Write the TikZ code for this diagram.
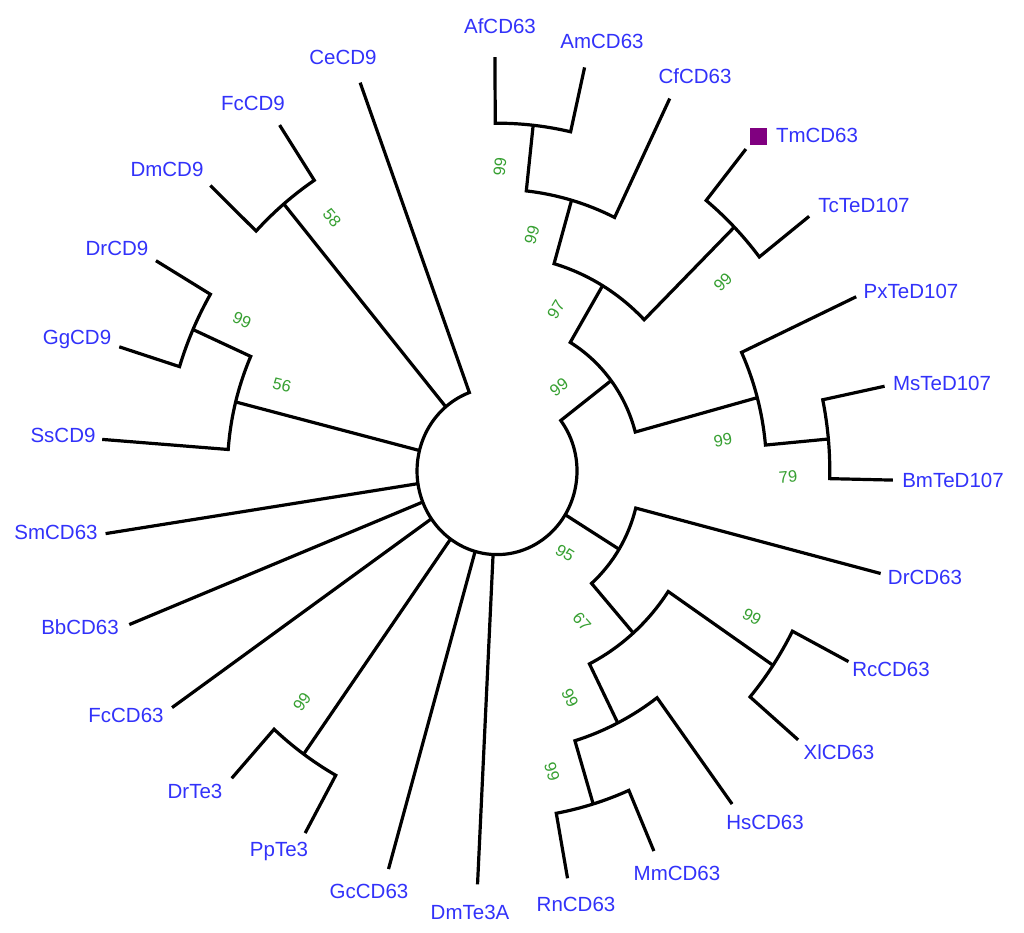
\documentclass[tikz,border=0pt]{standalone}
\usepackage{fontspec}
\setmainfont{Liberation Sans}
\definecolor{lblue}{RGB}{50,50,250}
\definecolor{bgreen}{RGB}{55,160,50}
\definecolor{tmpurple}{RGB}{128,0,128}
\def\Lzero{80}
\def\Lone{143.2}
\def\Ltwo{206.4}
\def\Lthree{269.6}
\def\Lfour{332.8}
\def\Lfive{396}
\begin{document}
\begin{tikzpicture}[x=1pt,y=1pt,
  br/.style={line width=3.2pt, black, line join=miter},
  leaf/.style={text=lblue, font=\fontsize{20.5}{22}\selectfont, inner sep=0pt},
  boot/.style={text=bgreen, font=\fontsize{16.5}{18}\selectfont, inner sep=0pt}]
\useasboundingbox (0,0) rectangle (1024,-932);
\fill[white] (0,0) rectangle (1024,-932);
\begin{scope}[shift={(497,-471)}, yscale=1.045]
% leaf tips
\coordinate (tAf) at (90.3:\Lfive);
\coordinate (tAm) at (77.22:\Lfive);
\coordinate (tCf) at (64.14:\Lfive);
\coordinate (tTm) at (51.06:\Lfive);
\coordinate (tTc) at (37.98:\Lfive);
\coordinate (tPx) at (24.90:\Lfive);
\coordinate (tMs) at (11.82:\Lfive);
\coordinate (tBm) at (-1.26:\Lfive);
\coordinate (tDrCD63) at (-14.34:\Lfive);
\coordinate (tRc) at (-27.42:\Lfive);
\coordinate (tXl) at (-40.50:\Lfive);
\coordinate (tHs) at (-53.58:\Lfive);
\coordinate (tMm) at (-66.66:\Lfive);
\coordinate (tRn) at (-79.74:\Lfive);
\coordinate (tDmTe) at (-92.82:\Lfive);
\coordinate (tGc) at (-105.90:\Lfive);
\coordinate (tPp) at (-118.98:\Lfive);
\coordinate (tDrTe) at (-132.06:\Lfive);
\coordinate (tFcCD63) at (-145.14:\Lfive);
\coordinate (tBb) at (-158.22:\Lfive);
\coordinate (tSm) at (-171.30:\Lfive);
\coordinate (tSs) at (-184.38:\Lfive);
\coordinate (tGg) at (-197.46:\Lfive);
\coordinate (tDrCD9) at (-210.54:\Lfive);
\coordinate (tDmCD9) at (-223.62:\Lfive);
\coordinate (tFcCD9) at (-236.70:\Lfive);
\coordinate (tCe) at (-249.78:\Lfive);
% internal nodes
\coordinate (nA) at (37.16:\Lone);   \coordinate (bA) at (37.16:\Lzero);
\coordinate (nB) at (59.235:\Ltwo);  \coordinate (bB) at (59.235:\Lone);
\coordinate (nD) at (15.09:\Lthree); \coordinate (bD) at (15.09:\Lone);
\coordinate (nE) at (73.95:\Lthree); \coordinate (bE) at (73.95:\Ltwo);
\coordinate (nH) at (44.52:\Lfour);  \coordinate (bH) at (44.52:\Ltwo);
\coordinate (nF) at (83.76:\Lfour);  \coordinate (bF) at (83.76:\Lthree);
\coordinate (nI) at (5.28:\Lfour);   \coordinate (bI) at (5.28:\Lthree);
\coordinate (nG) at (-31.51:\Lone);  \coordinate (bG) at (-31.51:\Lzero);
\coordinate (nJ) at (-48.675:\Ltwo); \coordinate (bJ) at (-48.675:\Lone);
\coordinate (nK) at (-33.96:\Lfour); \coordinate (bK) at (-33.96:\Ltwo);
\coordinate (nL) at (-63.39:\Lthree);\coordinate (bL) at (-63.39:\Ltwo);
\coordinate (nM) at (-73.2:\Lfour);  \coordinate (bM) at (-73.2:\Lthree);
\coordinate (nT) at (-125.52:\Lfour);\coordinate (bT) at (-125.52:\Lzero);
\coordinate (nP) at (-194.19:\Lthree);\coordinate (bP) at (-194.19:\Lzero);
\coordinate (nN) at (-204.0:\Lfour); \coordinate (bN) at (-204.0:\Lthree);
\coordinate (nQ) at (-230.16:\Lfour);\coordinate (bQ) at (-230.16:\Lzero);
% leaf bases
\coordinate (bAf) at (90.3:\Lfour);
\coordinate (bAm) at (77.22:\Lfour);
\coordinate (bCf) at (64.14:\Lthree);
\coordinate (bTm) at (51.06:\Lfour);
\coordinate (bTc) at (37.98:\Lfour);
\coordinate (bPx) at (24.90:\Lthree);
\coordinate (bMs) at (11.82:\Lfour);
\coordinate (bBm) at (-1.26:\Lfour);
\coordinate (bDrCD63) at (-14.34:\Lone);
\coordinate (bRc) at (-27.42:\Lfour);
\coordinate (bXl) at (-40.50:\Lfour);
\coordinate (bHs) at (-53.58:\Lthree);
\coordinate (bMm) at (-66.66:\Lfour);
\coordinate (bRn) at (-79.74:\Lfour);
\coordinate (bDmTe) at (-92.82:\Lzero);
\coordinate (bGc) at (-105.90:\Lzero);
\coordinate (bPp) at (-118.98:\Lfour);
\coordinate (bDrTe) at (-132.06:\Lfour);
\coordinate (bFcCD63) at (-145.14:\Lzero);
\coordinate (bBb) at (-158.22:\Lzero);
\coordinate (bSm) at (-171.30:\Lzero);
\coordinate (bSs) at (-184.38:\Lthree);
\coordinate (bGg) at (-197.46:\Lfour);
\coordinate (bDrCD9) at (-210.54:\Lfour);
\coordinate (bDmCD9) at (-223.62:\Lfour);
\coordinate (bFcCD9) at (-236.70:\Lfour);
\coordinate (bCe) at (-249.78:\Lzero);
% clades
\draw[br] (tAf) -- (bAf) arc[start angle=90.3, end angle=77.22, radius=\Lfour] -- (tAm);
\draw[br] (nF) -- (bF) arc[start angle=83.76, end angle=64.14, radius=\Lthree] -- (tCf);
\draw[br] (tTm) -- (bTm) arc[start angle=51.06, end angle=37.98, radius=\Lfour] -- (tTc);
\draw[br] (nE) -- (bE) arc[start angle=73.95, end angle=44.52, radius=\Ltwo] -- (nH);
\draw[br] (tMs) -- (bMs) arc[start angle=11.82, end angle=-1.26, radius=\Lfour] -- (tBm);
\draw[br] (tPx) -- (bPx) arc[start angle=24.90, end angle=5.28, radius=\Lthree] -- (nI);
\draw[br] (nB) -- (bB) arc[start angle=59.235, end angle=15.09, radius=\Lone] -- (nD);
\draw[br] (tRc) -- (bRc) arc[start angle=-27.42, end angle=-40.50, radius=\Lfour] -- (tXl);
\draw[br] (tMm) -- (bMm) arc[start angle=-66.66, end angle=-79.74, radius=\Lfour] -- (tRn);
\draw[br] (tHs) -- (bHs) arc[start angle=-53.58, end angle=-73.2, radius=\Lthree] -- (nM);
\draw[br] (nK) -- (bK) arc[start angle=-33.96, end angle=-63.39, radius=\Ltwo] -- (nL);
\draw[br] (tDrCD63) -- (bDrCD63) arc[start angle=-14.34, end angle=-48.675, radius=\Lone] -- (nJ);
\draw[br] (tPp) -- (bPp) arc[start angle=-118.98, end angle=-132.06, radius=\Lfour] -- (tDrTe);
\draw[br] (tGg) -- (bGg) arc[start angle=-197.46, end angle=-210.54, radius=\Lfour] -- (tDrCD9);
\draw[br] (tSs) -- (bSs) arc[start angle=-184.38, end angle=-204.0, radius=\Lthree] -- (nN);
\draw[br] (tDmCD9) -- (bDmCD9) arc[start angle=-223.62, end angle=-236.70, radius=\Lfour] -- (tFcCD9);
% root
\draw[br] (nA) -- (bA) arc[start angle=37.16, end angle=-249.78, radius=\Lzero] -- (tCe);
\draw[br] (bG) -- (nG);
\draw[br] (bDmTe) -- (tDmTe);
\draw[br] (bGc) -- (tGc);
\draw[br] (bT) -- (nT);
\draw[br] (bFcCD63) -- (tFcCD63);
\draw[br] (bBb) -- (tBb);
\draw[br] (bSm) -- (tSm);
\draw[br] (bP) -- (nP);
\draw[br] (bQ) -- (nQ);
\end{scope}
% leaf labels
\node[leaf] (lAf) at (500,-26) {AfCD63};
\node[leaf] (lAm) at (602,-41) {AmCD63};
\node[leaf] (lCf) at (695,-76) {CfCD63};
\node[fill=tmpurple, minimum size=17pt, inner sep=0pt] (sqTm) at (758,-136) {};
\node[leaf] (lTm) at (817,-135) {TmCD63};
\node[leaf] (lTc) at (864,-205) {TcTeD107};
\node[leaf] (lPx) at (911,-291) {PxTeD107};
\node[leaf] (lMs) at (942,-383) {MsTeD107};
\node[leaf] (lBm) at (953,-480) {BmTeD107};
\node[leaf] (lDrCD63) at (925,-577) {DrCD63};
\node[leaf] (lRc) at (891,-669) {RcCD63};
\node[leaf] (lXl) at (839,-752) {XlCD63};
\node[leaf] (lHs) at (765,-822) {HsCD63};
\node[leaf] (lMm) at (677,-873) {MmCD63};
\node[leaf] (lRn) at (576,-904) {RnCD63};
\node[leaf] (lDmTe) at (470,-912) {DmTe3A};
\node[leaf] (lGc) at (369,-891) {GcCD63};
\node[leaf] (lPp) at (279,-851) {PpTe3};
\node[leaf] (lDrTe) at (195,-791) {DrTe3};
\node[leaf] (lFcCD63) at (126,-715) {FcCD63};
\node[leaf] (lBb) at (80,-627) {BbCD63};
\node[leaf] (lSm) at (56,-532) {SmCD63};
\node[leaf] (lSs) at (63,-435) {SsCD9};
\node[leaf] (lGg) at (77,-339) {GgCD9};
\node[leaf] (lDrCD9) at (117,-248) {DrCD9};
\node[leaf] (lDmCD9) at (167,-169) {DmCD9};
\node[leaf] (lFcCD9) at (253,-103) {FcCD9};
\node[leaf] (lCe) at (343,-57) {CeCD9};
% bootstrap values
\node[boot, rotate=84] (bs1) at (500,-167) {99};
\node[boot, rotate=74] (bs2) at (532,-235) {99};
\node[boot, rotate=59] (bs3) at (556,-310) {97};
\node[boot, rotate=37] (bs4) at (559,-387) {99};
\node[boot, rotate=44.5] (bs5) at (723,-282) {99};
\node[boot, rotate=10] (bs6) at (723,-440) {99};
\node[boot, rotate=5] (bs7) at (788,-477) {79};
\node[boot, rotate=-31.5] (bs8) at (565,-553) {95};
\node[boot, rotate=-48.7] (bs9) at (582,-622) {67};
\node[boot, rotate=-30] (bs10) at (752,-617) {99};
\node[boot, rotate=-63.4] (bs11) at (570,-698) {99};
\node[boot, rotate=-73.2] (bs12) at (552,-772) {99};
\node[boot, rotate=54.5] (bs13) at (302,-702) {99};
\node[boot, rotate=-14.2] (bs14) at (282,-385) {56};
\node[boot, rotate=-24] (bs15) at (242,-320) {99};
\node[boot, rotate=-50.2] (bs16) at (332,-218) {58};
\end{tikzpicture}
\end{document}
